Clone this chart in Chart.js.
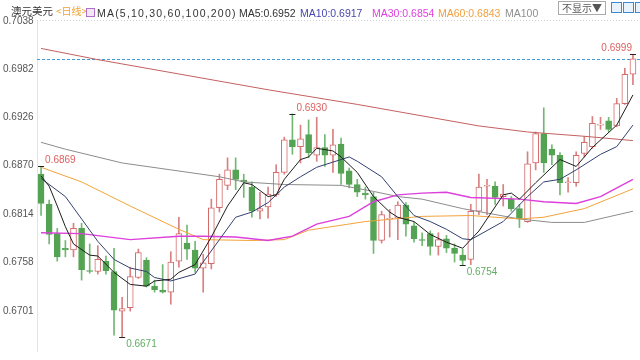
<!DOCTYPE html>
<html lang="zh">
<head>
    <meta charset="UTF-8">
    <title>澳元美元 日线</title>
    <script src="https://cdn.jsdelivr.net/npm/chart.js@4"></script>
    <style>
        html, body { margin: 0; padding: 0; background: #fff; }
        #wrap { position: relative; width: 640px; height: 360px; overflow: hidden; }
        #hdr span { position: absolute; top: 7px; font: 10.5px "Liberation Sans", Arial, sans-serif; line-height: 12px; white-space: nowrap; color: #333; }
        #hdr .cn { font-family: "Noto Sans CJK SC", sans-serif; top: 5px; }
        #hdr .ic { top: 8px; width: 7px; height: 7px; border: 1px solid #b070c8; background: #f3e6f8; }
        #hdr .btn { top: 1px; height: 12px; line-height: 12px; padding: 0 3px; border: 1px solid #aaa; color: #555; font-size: 10px; }
        #hdr .sq { top: 2px; width: 9px; height: 9px; border: 1px solid #3b8ad0; background: #e8f2fb; }
    </style>
</head>
<body>
<div id="wrap">
    <canvas id="kline" width="640" height="360"></canvas>
    <div id="hdr">
        <span class="cn" style="left:11px">澳元美元</span>
        <span class="cn" style="left:56px;color:#f0a030;font-size:10px">&lt;日线&gt;</span>
        <span class="ic" style="left:86px"></span>
        <span style="left:97px;letter-spacing:1.2px">MA(5,10,30,60,100,200)</span>
        <span style="left:239px">MA5:0.6952</span>
        <span style="left:300px;color:#4646b0">MA10:0.6917</span>
        <span style="left:372px;color:#e040e0">MA30:0.6854</span>
        <span style="left:438px;color:#f0a040">MA60:0.6843</span>
        <span style="left:505px;color:#909090">MA100</span>
        <span class="cn btn" style="left:558px">不显示▼</span>
        <span class="sq" style="left:611px"></span>
        <span class="sq" style="left:623px"></span>
        <span class="sq" style="left:635px"></span>
    </div>
</div>
<script>
    // 日K数据 (开, 高, 低, 收)
    const opens = [0.6860, 0.6825, 0.6791, 0.6774, 0.6772, 0.6797, 0.6748, 0.6747, 0.6759, 0.6747,
        0.6701, 0.6705, 0.6740, 0.6760, 0.6730, 0.6725, 0.6723, 0.6759, 0.6780, 0.6772,
        0.6751, 0.6756, 0.6821, 0.6847, 0.6865, 0.6853, 0.6845, 0.6817, 0.6822, 0.6836,
        0.6862, 0.6900, 0.6892, 0.6906, 0.6882, 0.6891, 0.6882, 0.6895, 0.6864, 0.6848,
        0.6838, 0.6834, 0.6783, 0.6808, 0.6809, 0.6824, 0.6800, 0.6784, 0.6791, 0.6776,
        0.6785, 0.6774, 0.6766, 0.6761, 0.6817, 0.6846, 0.6846, 0.6834, 0.6831, 0.6820,
        0.6805, 0.6873, 0.6907, 0.6889, 0.6882, 0.6850, 0.6850, 0.6884, 0.6892, 0.6917,
        0.6922, 0.6916, 0.6942, 0.6976];
    const highs = [0.6869, 0.6830, 0.6797, 0.6783, 0.6803, 0.6803, 0.6779, 0.6777, 0.6765, 0.6774,
        0.6717, 0.6752, 0.6773, 0.6763, 0.6737, 0.6755, 0.6770, 0.6810, 0.6801, 0.6782,
        0.6767, 0.6831, 0.6860, 0.6879, 0.6879, 0.6860, 0.6851, 0.6839, 0.6845, 0.6871,
        0.6903, 0.6930, 0.6917, 0.6923, 0.6926, 0.6906, 0.6912, 0.6902, 0.6867, 0.6854,
        0.6845, 0.6839, 0.6817, 0.6819, 0.6828, 0.6827, 0.6804, 0.6792, 0.6794, 0.6792,
        0.6789, 0.6779, 0.6773, 0.6825, 0.6860, 0.6854, 0.6851, 0.6848, 0.6834, 0.6825,
        0.6886, 0.6909, 0.6937, 0.6894, 0.6885, 0.6856, 0.6886, 0.6904, 0.6927, 0.6926,
        0.6926, 0.6948, 0.6983, 0.6999];
    const lows = [0.6812, 0.6779, 0.6759, 0.6764, 0.6764, 0.6737, 0.6745, 0.6744, 0.6744, 0.6673,
        0.6671, 0.6701, 0.6739, 0.6729, 0.6723, 0.6722, 0.6709, 0.6752, 0.6761, 0.6746,
        0.6723, 0.6750, 0.6816, 0.6842, 0.6842, 0.6833, 0.6810, 0.6808, 0.6809, 0.6834,
        0.6860, 0.6883, 0.6873, 0.6879, 0.6875, 0.6869, 0.6862, 0.6848, 0.6844, 0.6834,
        0.6831, 0.6768, 0.6780, 0.6787, 0.6784, 0.6788, 0.6781, 0.6777, 0.6766, 0.6766,
        0.6769, 0.6758, 0.6754, 0.6755, 0.6813, 0.6813, 0.6825, 0.6823, 0.6817, 0.6798,
        0.6804, 0.6865, 0.6862, 0.6871, 0.6836, 0.6839, 0.6846, 0.6880, 0.6890, 0.6912,
        0.6909, 0.6915, 0.6941, 0.6964];
    const closes = [0.6826, 0.6790, 0.6764, 0.6772, 0.6797, 0.6749, 0.6747, 0.6761, 0.6748, 0.6702,
        0.6704, 0.6741, 0.6769, 0.6730, 0.6726, 0.6723, 0.6758, 0.6791, 0.6773, 0.6751,
        0.6757, 0.6821, 0.6854, 0.6865, 0.6854, 0.6851, 0.6817, 0.6820, 0.6837, 0.6862,
        0.6900, 0.6892, 0.6901, 0.6885, 0.6891, 0.6882, 0.6894, 0.6861, 0.6848, 0.6839,
        0.6836, 0.6783, 0.6813, 0.6809, 0.6824, 0.6802, 0.6785, 0.6783, 0.6776, 0.6784,
        0.6774, 0.6768, 0.6760, 0.6817, 0.6845, 0.6847, 0.6833, 0.6837, 0.6820, 0.6808,
        0.6872, 0.6907, 0.6873, 0.6882, 0.6850, 0.6851, 0.6882, 0.6897, 0.6919, 0.6918,
        0.6912, 0.6942, 0.6976, 0.6994];
    const days = opens.map((_, i) => String(i + 1));

    // 均线读数 [第几根K线, 数值]
    const ma5 = [[0, 0.6858], [1, 0.6846], [2, 0.6823], [3, 0.6799], [4, 0.6779], [6, 0.6766], [7, 0.6765],
        [9, 0.6746], [11, 0.6732], [13, 0.6730], [14, 0.6736], [16, 0.6738], [17, 0.6746], [19, 0.6755],
        [21, 0.6787], [23, 0.6823], [25, 0.6850], [26, 0.6848], [28, 0.6834], [29, 0.6836], [30, 0.6854],
        [32, 0.6877], [33, 0.6880], [34, 0.6890], [36, 0.6887], [37, 0.6880], [39, 0.6862], [41, 0.6834],
        [43, 0.6816], [44, 0.6810], [46, 0.6805], [48, 0.6790], [50, 0.6781], [52, 0.6774], [54, 0.6794],
        [57, 0.6836], [58, 0.6838], [59, 0.6831], [61, 0.6850], [64, 0.6877], [66, 0.6869], [68, 0.6891],
        [71, 0.6917], [73, 0.6952]];
    const ma10 = [[0, 0.6855], [3, 0.6834], [5, 0.6808], [7, 0.6782], [9, 0.6761], [11, 0.6751], [13, 0.6747],
        [14, 0.6740], [16, 0.6736], [19, 0.6744], [20, 0.6758], [22, 0.6784], [24, 0.6810], [26, 0.6816],
        [28, 0.6827], [30, 0.6845], [32, 0.6857], [34, 0.6868], [35, 0.6871], [38, 0.6880], [39, 0.6875],
        [42, 0.6857], [44, 0.6834], [46, 0.6812], [48, 0.6805], [50, 0.6796], [52, 0.6785], [53, 0.6784],
        [57, 0.6805], [60, 0.6834], [62, 0.6851], [64, 0.6854], [66, 0.6865], [69, 0.6883], [71, 0.6892],
        [73, 0.6917]];
    const ma30 = [[0, 0.6792], [5, 0.6791], [11, 0.6784], [17, 0.6788], [20, 0.6788], [24, 0.6787], [28, 0.6783],
        [31, 0.6788], [34, 0.6802], [38, 0.6811], [41, 0.6828], [44, 0.6836], [47, 0.6838], [50, 0.6839],
        [53, 0.6833], [59, 0.6831], [62, 0.6828], [66, 0.6826], [69, 0.6834], [73, 0.6854]];
    const ma60 = [[0, 0.6868], [5, 0.6851], [11, 0.6823], [17, 0.6796], [20, 0.6784], [26, 0.6783], [30, 0.6784],
        [33, 0.6795], [40, 0.6805], [47, 0.6811], [53, 0.6812], [59, 0.6808], [62, 0.6810], [67, 0.6820],
        [73, 0.6843]];
    const ma100 = [[0, 0.6897], [3, 0.6889], [10, 0.6873], [16, 0.6865], [22, 0.6857], [25, 0.6851], [30, 0.6848],
        [37, 0.6847], [41, 0.6840], [44, 0.6834], [47, 0.6831], [52, 0.6820], [59, 0.6808], [63, 0.6804],
        [67, 0.6804], [73, 0.6817]];
    const ma200 = [[0, 0.7006], [7, 0.6993], [28, 0.6958], [39, 0.6941], [54, 0.6916], [60, 0.6909],
        [67, 0.6904], [73, 0.6899]];

    const yTicks = [0.6701, 0.6758, 0.6814, 0.6870, 0.6926, 0.6982, 0.7038];
    const highMarks = [0, 31, 73];   // 标注最高价的K线
    const lowMarks = [10, 52];       // 标注最低价的K线

    const RED = '#d46a6a', GREEN = '#53a353';
    const isUp = i => closes[i] >= opens[i];

    function maLine(label, pts, color, width) {
        return {
            type: 'line', label: label,
            data: pts.map(([i, v]) => ({ x: days[i], y: v })),
            borderColor: color, borderWidth: width || 1,
            pointRadius: 0, tension: 0, order: 0
        };
    }

    // 虚线/最高最低价标注
    const marksPlugin = {
        id: 'marks',
        beforeDatasetsDraw(chart) {
            const { ctx, chartArea: a, scales: { y } } = chart;
            ctx.save();
            ctx.strokeStyle = '#d0d0d0';
            ctx.setLineDash([1, 2]);
            ctx.beginPath(); ctx.moveTo(a.left, a.top + 0.5); ctx.lineTo(chart.width, a.top + 0.5); ctx.stroke();
            const py = Math.round(y.getPixelForValue(closes[closes.length - 1])) + 0.5;
            ctx.strokeStyle = '#3d9ad8';
            ctx.setLineDash([3, 2]);
            ctx.beginPath(); ctx.moveTo(a.left, py); ctx.lineTo(chart.width, py); ctx.stroke();
            ctx.restore();
        },
        afterDatasetsDraw(chart) {
            const { ctx, scales: { x, y } } = chart;
            ctx.save();
            ctx.font = '10px "Liberation Sans", Arial, sans-serif';
            ctx.textBaseline = 'middle';
            const draw = (i, v, isHigh) => {
                const px = x.getPixelForValue(i), py = Math.round(y.getPixelForValue(v)) + 0.5;
                ctx.strokeStyle = '#222'; ctx.lineWidth = 1;
                ctx.beginPath(); ctx.moveTo(px - 3, py); ctx.lineTo(px + 3, py); ctx.stroke();
                ctx.fillStyle = isHigh ? '#dd6060' : '#62ad62';
                const last = i === opens.length - 1;
                ctx.textAlign = last ? 'right' : 'left';
                ctx.fillText(v.toFixed(4), last ? px - 1 : px + 4, isHigh ? py - 6 : py + 7);
            };
            highMarks.forEach(i => draw(i, highs[i], true));
            lowMarks.forEach(i => draw(i, lows[i], false));
            ctx.restore();
        }
    };

    new Chart(document.getElementById('kline'), {
        type: 'bar',
        data: {
            labels: days,
            datasets: [
                maLine('MA5', ma5, '#1e1e1e'),
                maLine('MA10', ma10, '#33406e'),
                maLine('MA30', ma30, '#dc3fdc', 1.4),
                maLine('MA60', ma60, '#f2a33a'),
                maLine('MA100', ma100, '#8c8c8c'),
                maLine('MA200', ma200, '#c46060'),
                {
                    label: 'body',
                    data: opens.map((o, i) => [o, closes[i]]),
                    backgroundColor: c => isUp(c.dataIndex) ? '#ffffff' : GREEN,
                    borderColor: c => isUp(c.dataIndex) ? RED : GREEN,
                    borderWidth: 1, borderSkipped: false, minBarLength: 1,
                    barThickness: 6, grouped: false, order: 1
                },
                {
                    label: 'wick',
                    data: lows.map((l, i) => [l, highs[i]]),
                    backgroundColor: c => isUp(c.dataIndex) ? '#d98080' : '#72b872',
                    borderWidth: 0, barThickness: 1, grouped: false, order: 2
                }
            ]
        },
        options: {
            responsive: false,
            animation: false,
            layout: { padding: { top: 20, left: 3, right: 3, bottom: 8 } },
            plugins: { legend: { display: false }, tooltip: { enabled: false } },
            scales: {
                x: { type: 'category', display: false, offset: true, grid: { display: false } },
                y: {
                    position: 'left',
                    min: 0.66547, max: 0.7039,
                    afterFit: s => { s.width = 34; },
                    afterBuildTicks: s => { s.ticks = yTicks.map(v => ({ value: v })); },
                    ticks: {
                        crossAlign: 'far', color: '#555',
                        font: { size: 10, family: '"Liberation Sans", Arial, sans-serif' },
                        callback: v => Number(v).toFixed(4)
                    },
                    grid: { display: false },
                    border: { display: true, color: '#e4e4e4' }
                }
            }
        },
        plugins: [marksPlugin]
    });
</script>
</body>
</html>
